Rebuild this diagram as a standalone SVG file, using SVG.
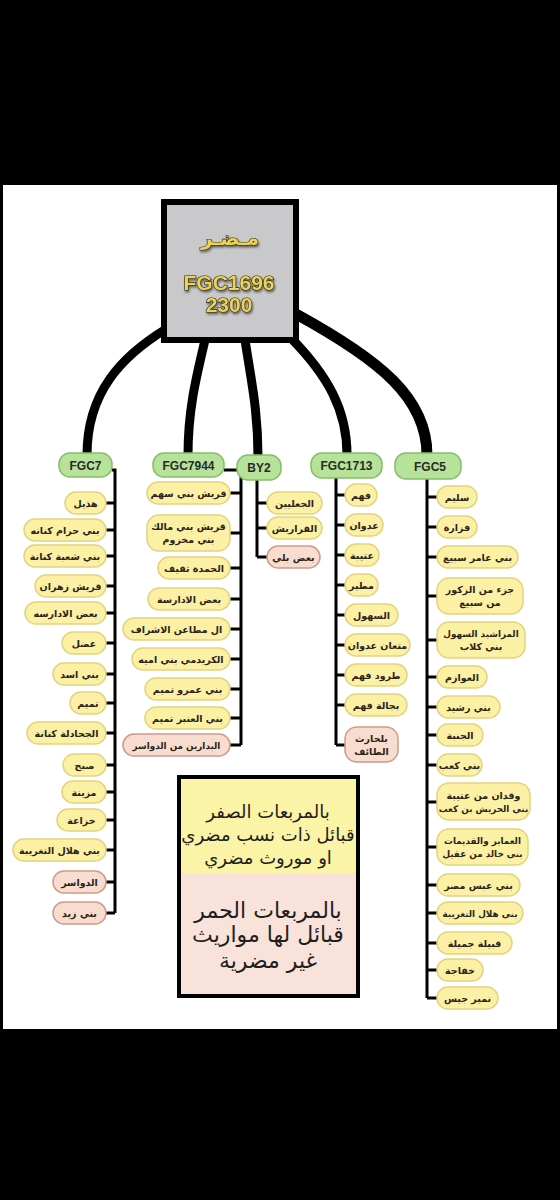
<svg xmlns="http://www.w3.org/2000/svg" width="560" height="1200" viewBox="0 0 560 1200">
<style>
.y{fill:#fbf0a4;stroke:#e2d47e;stroke-width:1.5}
.p{fill:#f8dccf;stroke:#cf9a86;stroke-width:1.5}
.g{fill:#b6e29a;stroke:#86bd6a;stroke-width:1.5}
.t{font-family:"DejaVu Sans",sans-serif;font-size:9.5px;font-weight:bold;fill:#2b2418;text-anchor:middle}
.s{font-size:8.8px}
.h{font-family:"Liberation Sans",Arial,sans-serif;font-size:12px;font-weight:bold;fill:#2a2a2a;text-anchor:middle}
.br{fill:none;stroke:#000;stroke-width:3}
.cn{fill:none;stroke:#000;stroke-linecap:butt}
.gold{font-family:"Liberation Sans",Arial,sans-serif;font-weight:bold;fill:#e9d35c;stroke:#2e2600;stroke-width:1.2;paint-order:stroke;text-anchor:middle}
.lg{font-family:"DejaVu Sans",sans-serif;fill:#1e1e1e;text-anchor:middle}
</style>
<defs>
<filter id="sh" x="-20%" y="-20%" width="140%" height="160%"><feDropShadow dx="1" dy="2" stdDeviation="1" flood-color="#000" flood-opacity="0.5"/></filter>
</defs>
<rect x="0" y="0" width="560" height="1200" fill="#000"/>
<rect x="3" y="185" width="554" height="844" fill="#fff"/>

<g id="connectors">
<path class="cn" stroke-width="9" d="M166,329 C122,356 87,392 87,455"/>
<path class="cn" stroke-width="9" d="M205,340 C196,378 188,410 188,455"/>
<path class="cn" stroke-width="9" d="M245,340 C252,385 258,412 258,457"/>
<path class="cn" stroke-width="9" d="M291,338 C328,376 347,410 347,455"/>
<path class="cn" stroke-width="11" d="M296,314 C380,360 427,398 427,455"/>
<path class="br" d="M112,470 H115 V913 M106,503 H115 M106,530 H115 M106,556 H115 M106,586 H115 M106,613 H115 M106,643 H115 M106,674 H115 M106,703 H115 M106,733 H115 M106,765 H115 M106,792 H115 M106,820 H115 M106,850 H115 M106,882 H115 M106,913 H115"/>
<path class="br" d="M224,470 H241 V745 M230,493 H241 M230,533 H241 M230,568 H241 M230,599 H241 M230,629 H241 M230,659 H241 M230,689 H241 M230,718 H241 M230,745 H241"/>
<path class="br" d="M257,476 V557 M257,503 H267 M257,528 H267 M257,557 H267"/>
<path class="br" d="M336,474 V745 M336,495 H345 M336,525 H345 M336,555 H345 M336,585 H345 M336,615 H345 M336,645 H345 M336,675 H345 M336,705 H345 M336,745 H345"/>
<path class="br" d="M427,474 V998 M427,497 H437 M427,527 H437 M427,557 H437 M427,596 H437 M427,640 H437 M427,677 H437 M427,707 H437 M427,735 H437 M427,765 H437 M427,802 H437 M427,847 H437 M427,885 H437 M427,913 H437 M427,943 H437 M427,970 H437 M427,998 H437"/>
</g>

<g id="root">
<rect x="164" y="202" width="132" height="138" fill="#c9c9cc" stroke="#000" stroke-width="6"/>
<text class="gold" x="230" y="245" font-size="20" filter="url(#sh)" style="font-family:'DejaVu Sans',sans-serif">مـضـر</text>
<text class="gold" x="229" y="290" font-size="21" filter="url(#sh)">FGC1696</text>
<text class="gold" x="229" y="312" font-size="21" filter="url(#sh)">2300</text>
</g>

<g id="h-fgc7"><rect class="g" x="59" y="453" width="53" height="24" rx="11"/><text class="h" x="85.5" y="469.5">FGC7</text></g>
<g id="h-fgc7944"><rect class="g" x="153" y="453" width="71" height="24" rx="11"/><text class="h" x="188.5" y="469.5">FGC7944</text></g>
<g id="h-by2"><rect class="g" x="237" y="455" width="44" height="25" rx="11"/><text class="h" x="259" y="472">BY2</text></g>
<g id="h-fgc1713"><rect class="g" x="311" y="453" width="71" height="25" rx="11"/><text class="h" x="346.5" y="470">FGC1713</text></g>
<g id="h-fgc5"><rect class="g" x="395" y="453" width="66" height="26" rx="11"/><text class="h" x="430" y="471">FGC5</text></g>

<g id="n7-1"><rect class="y" x="65" y="492" width="41" height="22" rx="11"/><text class="t" x="85.5" y="506.5">هذيل</text></g>
<g id="n7-2"><rect class="y" x="24" y="519" width="82" height="22" rx="11"/><text class="t" x="65" y="533.5">بني حرام كنانه</text></g>
<g id="n7-3"><rect class="y" x="24" y="545" width="82" height="22" rx="11"/><text class="t" x="65" y="559.5">بني شعبة كنانة</text></g>
<g id="n7-4"><rect class="y" x="35" y="575" width="71" height="22" rx="11"/><text class="t" x="70.5" y="589.5">قريش زهران</text></g>
<g id="n7-5"><rect class="y" x="25" y="602" width="81" height="22" rx="11"/><text class="t" x="65.5" y="616.5">بعض الادارسه</text></g>
<g id="n7-6"><rect class="y" x="62" y="632" width="44" height="22" rx="11"/><text class="t" x="84" y="646.5">عضل</text></g>
<g id="n7-7"><rect class="y" x="53" y="663" width="53" height="22" rx="11"/><text class="t" x="79.5" y="677.5">بني اسد</text></g>
<g id="n7-8"><rect class="y" x="70" y="692" width="36" height="22" rx="11"/><text class="t" x="88" y="706.5">تميم</text></g>
<g id="n7-9"><rect class="y" x="27" y="722" width="79" height="22" rx="11"/><text class="t" x="66.5" y="736.5">الجحادلة كنانة</text></g>
<g id="n7-10"><rect class="y" x="63" y="754" width="43" height="22" rx="11"/><text class="t" x="84.5" y="768.5">صبح</text></g>
<g id="n7-11"><rect class="y" x="62" y="781" width="44" height="22" rx="11"/><text class="t" x="84" y="795.5">مزينة</text></g>
<g id="n7-12"><rect class="y" x="57" y="809" width="49" height="22" rx="11"/><text class="t" x="81.5" y="823.5">خزاعة</text></g>
<g id="n7-13"><rect class="y" x="13" y="839" width="93" height="22" rx="11"/><text class="t" x="59.5" y="853.5">بني هلال التغريبة</text></g>
<g id="n7-14"><rect class="p" x="53" y="871" width="53" height="22" rx="11"/><text class="t" x="79.5" y="885.5">الدواسر</text></g>
<g id="n7-15"><rect class="p" x="53" y="902" width="53" height="22" rx="11"/><text class="t" x="79.5" y="916.5">بني زيد</text></g>

<g id="n79-1"><rect class="y" x="147" y="482" width="83" height="22" rx="11"/><text class="t" x="188.5" y="496.5">قريش بني سهم</text></g>
<g id="n79-2"><rect class="y" x="147" y="515" width="83" height="36" rx="12"/><text class="t" x="188.5" y="530">قريش بني مالك</text><text class="t" x="188.5" y="543">بني مخزوم</text></g>
<g id="n79-3"><rect class="y" x="158" y="557" width="72" height="22" rx="11"/><text class="t" x="194" y="571.5">الحمدة ثقيف</text></g>
<g id="n79-4"><rect class="y" x="148" y="588" width="82" height="22" rx="11"/><text class="t" x="189" y="602.5">بعض الادارسة</text></g>
<g id="n79-5"><rect class="y" x="123" y="618" width="107" height="22" rx="11"/><text class="t" x="176.5" y="632.5">ال مطاعن الاشراف</text></g>
<g id="n79-6"><rect class="y" x="132" y="648" width="98" height="22" rx="11"/><text class="t" x="181" y="662.5">الكريدمي بني اميه</text></g>
<g id="n79-7"><rect class="y" x="145" y="678" width="85" height="22" rx="11"/><text class="t" x="187.5" y="692.5">بني عمرو تميم</text></g>
<g id="n79-8"><rect class="y" x="145" y="707" width="85" height="22" rx="11"/><text class="t" x="187.5" y="721.5">بني العنبر تميم</text></g>
<g id="n79-9"><rect class="p" x="123" y="734" width="107" height="22" rx="11"/><text class="t s" x="176.5" y="748.5">البدارين من الدواسر</text></g>

<g id="nb-1"><rect class="y" x="267" y="492" width="55" height="22" rx="11"/><text class="t" x="294.5" y="506.5">الجعليين</text></g>
<g id="nb-2"><rect class="y" x="267" y="517" width="55" height="22" rx="11"/><text class="t" x="294.5" y="531.5">القراريش</text></g>
<g id="nb-3"><rect class="p" x="267" y="546" width="53" height="22" rx="11"/><text class="t" x="293.5" y="560.5">بعض بلي</text></g>

<g id="n17-1"><rect class="y" x="345" y="484" width="32" height="22" rx="11"/><text class="t" x="361" y="498.5">فهم</text></g>
<g id="n17-2"><rect class="y" x="345" y="514" width="38" height="22" rx="11"/><text class="t" x="364" y="528.5">عدوان</text></g>
<g id="n17-3"><rect class="y" x="345" y="544" width="34" height="22" rx="11"/><text class="t" x="362" y="558.5">عتيبة</text></g>
<g id="n17-4"><rect class="y" x="345" y="574" width="33" height="22" rx="11"/><text class="t" x="361.5" y="588.5">مطير</text></g>
<g id="n17-5"><rect class="y" x="345" y="604" width="53" height="22" rx="11"/><text class="t" x="371.5" y="618.5">السهول</text></g>
<g id="n17-6"><rect class="y" x="345" y="634" width="65" height="22" rx="11"/><text class="t" x="377.5" y="648.5">متعان عدوان</text></g>
<g id="n17-7"><rect class="y" x="345" y="664" width="62" height="22" rx="11"/><text class="t" x="376" y="678.5">طرود فهم</text></g>
<g id="n17-8"><rect class="y" x="345" y="694" width="62" height="22" rx="11"/><text class="t" x="376" y="708.5">بجالة فهم</text></g>
<g id="n17-9"><rect class="p" x="345" y="727" width="53" height="35" rx="12"/><text class="t" x="371.5" y="742">بلحارث</text><text class="t" x="371.5" y="755">الطائف</text></g>

<g id="n5-1"><rect class="y" x="437" y="486" width="40" height="22" rx="11"/><text class="t" x="457" y="500.5">سليم</text></g>
<g id="n5-2"><rect class="y" x="437" y="516" width="40" height="22" rx="11"/><text class="t" x="457" y="530.5">فزارة</text></g>
<g id="n5-3"><rect class="y" x="437" y="546" width="81" height="22" rx="11"/><text class="t" x="477.5" y="560.5">بني عامر سبيع</text></g>
<g id="n5-4"><rect class="y" x="437" y="578" width="86" height="36" rx="12"/><text class="t" x="480" y="593">جزء من الزكور</text><text class="t" x="480" y="606">من سبيع</text></g>
<g id="n5-5"><rect class="y" x="437" y="622" width="88" height="36" rx="12"/><text class="t s" x="481" y="637">المراشيد السهول</text><text class="t" x="481" y="650">بني كلاب</text></g>
<g id="n5-6"><rect class="y" x="437" y="666" width="50" height="22" rx="11"/><text class="t" x="462" y="680.5">العوازم</text></g>
<g id="n5-7"><rect class="y" x="437" y="696" width="63" height="22" rx="11"/><text class="t" x="468.5" y="710.5">بني رشيد</text></g>
<g id="n5-8"><rect class="y" x="437" y="724" width="46" height="22" rx="11"/><text class="t" x="460" y="738.5">الجنبة</text></g>
<g id="n5-9"><rect class="y" x="437" y="754" width="45" height="22" rx="11"/><text class="t" x="459.5" y="768.5">بني كعب</text></g>
<g id="n5-10"><rect class="y" x="437" y="783" width="93" height="37" rx="12"/><text class="t" x="483.5" y="798.5">وقدان من عتيبة</text><text class="t s" x="483.5" y="811.5">بني الحريش بن كعب</text></g>
<g id="n5-11"><rect class="y" x="437" y="829" width="91" height="36" rx="12"/><text class="t s" x="482.5" y="844">العماير والقديمات</text><text class="t s" x="482.5" y="857">بني خالد من عقيل</text></g>
<g id="n5-12"><rect class="y" x="437" y="874" width="83" height="22" rx="11"/><text class="t" x="478.5" y="888.5">بني عبس مصر</text></g>
<g id="n5-13"><rect class="y" x="437" y="902" width="86" height="22" rx="11"/><text class="t s" x="480" y="916.5">بني هلال التغريبة</text></g>
<g id="n5-14"><rect class="y" x="437" y="932" width="75" height="22" rx="11"/><text class="t" x="474.5" y="946.5">قبيلة جميلة</text></g>
<g id="n5-15"><rect class="y" x="437" y="959" width="46" height="22" rx="11"/><text class="t" x="460" y="973.5">خفاجة</text></g>
<g id="n5-16"><rect class="y" x="437" y="987" width="61" height="22" rx="11"/><text class="t" x="467.5" y="1001.5">نمير جيس</text></g>

<g id="legend">
<rect x="179" y="777" width="179" height="96" fill="#fbf3a6"/>
<rect x="179" y="873" width="179" height="123" fill="#f9e2da"/>
<rect x="179" y="777" width="179" height="219" fill="none" stroke="#000" stroke-width="4"/>
<text class="lg" x="268" y="818" font-size="18">بالمربعات الصفر</text>
<text class="lg" x="268" y="841" font-size="18">قبائل ذات نسب مضري</text>
<text class="lg" x="268" y="864" font-size="18">او موروث مضري</text>
<text class="lg" x="268" y="918" font-size="22">بالمربعات الحمر</text>
<text class="lg" x="268" y="942" font-size="22">قبائل لها مواريث</text>
<text class="lg" x="268" y="968" font-size="22">غير مضرية</text>
</g>
</svg>
